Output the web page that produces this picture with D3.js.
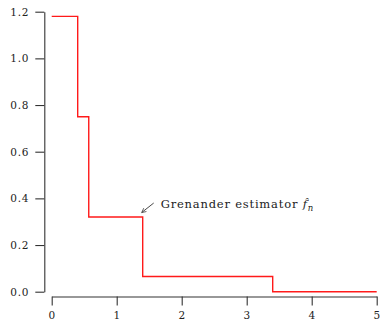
<!DOCTYPE html>
<html>
<head>
<meta charset="utf-8">
<script src="https://cdn.jsdelivr.net/npm/d3@7"></script>
<style>
body { margin: 0; background: #fff; }
text { font-family: "DejaVu Serif", serif; }
</style>
</head>
<body>
<script>
const w = 383;
const h = 324;

// step breakpoints and level on each piece
const breaks = [0, 0.40, 0.57, 1.40, 3.40, 5];
const levels = [1.18, 0.75, 0.32, 0.065, 0];
const xTicks = [0, 1, 2, 3, 4, 5];
const yTicks = [0, 0.2, 0.4, 0.6, 0.8, 1.0, 1.2];

const xScale = d3.scaleLinear().domain([0, 5]).range([51.7, 376.7]);
const yScale = d3.scaleLinear().domain([0, 1.2]).range([291.7, 11.7]);

const svg = d3.select("body").append("svg")
	.attr("width", w)
	.attr("height", h);

const pts = breaks.map((b, i) => [b, i < levels.length ? levels[i] : levels[levels.length - 1]]);

const line = d3.line()
	.x(d => xScale(d[0]))
	.y(d => yScale(d[1]))
	.curve(d3.curveStepAfter);

svg.append("path")
	.datum(pts)
	.attr("d", line)
	.attr("fill", "none")
	.attr("stroke", "#ff1a1a")
	.attr("stroke-width", 1.4);

const yAxis = d3.axisLeft(yScale).tickValues(yTicks).tickFormat(d3.format(".1f"))
	.tickSize(9).tickSizeOuter(0).tickPadding(6);
const xAxis = d3.axisBottom(xScale).tickValues(xTicks).tickFormat(d3.format("d"))
	.tickSize(9).tickSizeOuter(0).tickPadding(6);

const gy = svg.append("g").attr("transform", "translate(44.3,0)").call(yAxis);
const gx = svg.append("g").attr("transform", "translate(0,296.5)").call(xAxis);

[gy, gx].forEach(g => {
	g.selectAll("path, line").attr("stroke", "#333").attr("stroke-width", 1.1);
	g.selectAll("text").attr("font-family", "DejaVu Serif").attr("font-size", 10.5)
		.attr("letter-spacing", 0.8).attr("fill", "#222");
});

// annotation
const ax = 1.40, ay = 0.32;
svg.append("defs").append("marker")
	.attr("id", "arr")
	.attr("viewBox", "0 0 10 10")
	.attr("refX", 9).attr("refY", 5)
	.attr("markerWidth", 6).attr("markerHeight", 6)
	.attr("orient", "auto")
	.append("path")
	.attr("d", "M1,1 L9,5 L1,9")
	.attr("fill", "none")
	.attr("stroke", "#333")
	.attr("stroke-width", 1.3);

svg.append("line")
	.attr("x1", xScale(ax) + 11).attr("y1", yScale(ay) - 14)
	.attr("x2", xScale(ax) - 1).attr("y2", yScale(ay) - 4.5)
	.attr("stroke", "#333")
	.attr("stroke-width", 0.9)
	.attr("marker-end", "url(#arr)");

const label = svg.append("text")
	.attr("x", xScale(ax) + 18)
	.attr("y", yScale(ay) - 9)
	.attr("font-size", 11.5)
	.attr("letter-spacing", 0.8)
	.attr("fill", "#222");
label.append("tspan").text("Grenander estimator ");
label.append("tspan").attr("font-style", "italic").text("f\u0302");
label.append("tspan").attr("font-style", "italic").attr("font-size", 8.5).attr("dy", 2.5).text("n");
</script>
</body>
</html>
